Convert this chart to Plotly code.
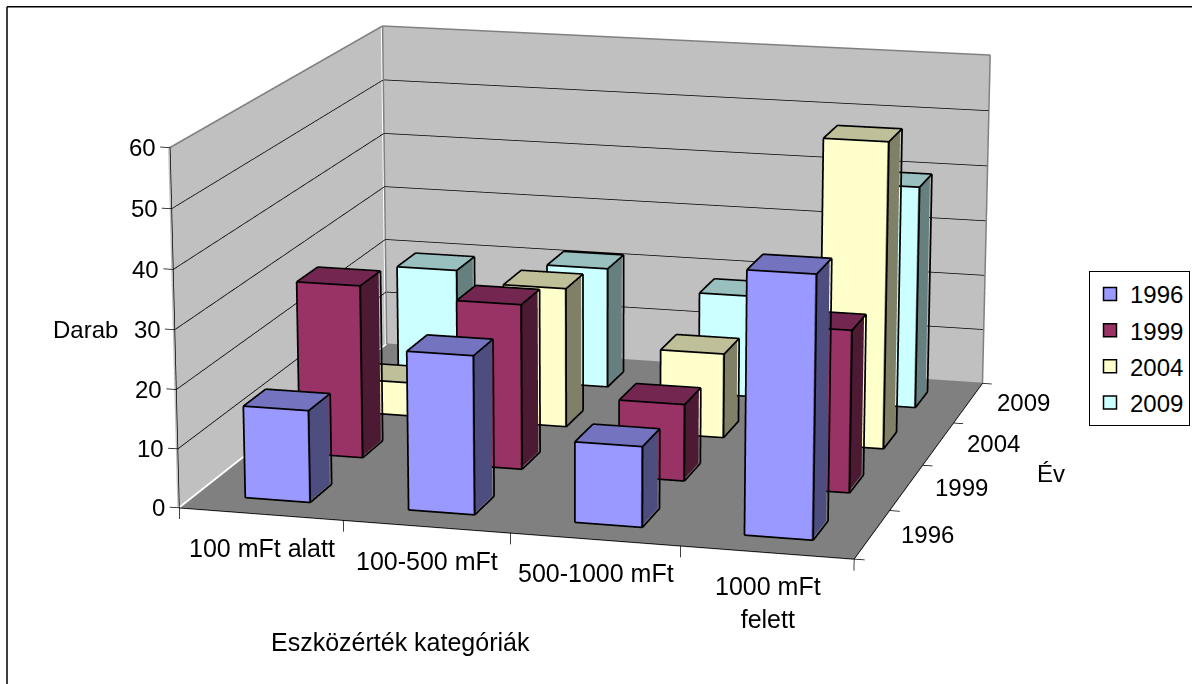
import numpy as np
import plotly.graph_objects as go

categories = ["100 mFt alatt", "100-500 mFt", "500-1000 mFt", "1000 mFt<br>felett"]
series_names = ["1996", "1999", "2004", "2009"]
v1996 = [15.6, 26.7, 13.5, 43.6]
v1999 = [30, 28.5, 13.2, 27.7]
v2004 = [6, 24.7, 14.9, 53.5]
v2009 = [19.8, 21.8, 18.4, 39.8]
series_values = [v1996, v1999, v2004, v2009]
z_ticks = [0, 10, 20, 30, 40, 50, 60]
front = ["#9999FF", "#993366", "#FFFFCC", "#CCFFFF"]
top = ["#7373BF", "#732650", "#BFBF99", "#99BFBF"]
side = ["#4D4D80", "#4D1A33", "#808066", "#668080"]

XR = (-0.1, 4.1); YR = (-0.1, 4.1); ZR = (-2.5, 61.0)
W = 1192
EYE = (3.0625, -11.5684, 2.8316)
CEN = (-0.0130, 0, -0.5218)
ASP = (1.8604, 1.8714, 1.0)
K = 4585.1672
PY = 464.1472
H = int(round(2 * K * np.tan(np.pi / 8)))
OFF = PY - H / 2


def seg(pairs):
    xs, ys, zs = [], [], []
    for a, b in pairs:
        xs += [a[0], b[0], None]
        ys += [a[1], b[1], None]
        zs += [a[2], b[2], None]
    return xs, ys, zs


def line(pairs, color, width):
    x, y, z = seg(pairs)
    return go.Scatter3d(x=x, y=y, z=z, mode="lines", line=dict(color=color, width=width), showlegend=False, hoverinfo="skip")


flat = dict(ambient=1, diffuse=0, specular=0, roughness=1, fresnel=0)


def quad(x, y, z, color):
    return go.Mesh3d(x=x, y=y, z=z, i=[0, 0], j=[1, 2], k=[2, 3], color=color, flatshading=True, lighting=flat, hoverinfo="skip", showlegend=False)


fig = go.Figure()
zmax = z_ticks[-1]
d = 0.012
dz = 0.12
fig.add_trace(quad([-d, -d, -d, -d], [0, 4, 4, 0], [0, 0, zmax, zmax], "#C0C0C0"))
fig.add_trace(quad([0, 4, 4, 0], [4 + d] * 4, [0, 0, zmax, zmax], "#C0C0C0"))
fig.add_trace(quad([0, 4, 4, 0], [0, 0, 4, 4], [-dz] * 4, "#808080"))
grid = []
for t in z_ticks[1:-1]:
    grid += [((0, 0, t), (0, 4, t)), ((0, 4, t), (4, 4, t))]
fig.add_trace(line(grid, "#000000", 1.5))
fig.add_trace(line([((0, 0, zmax), (0, 4, zmax)), ((0, 4, zmax), (4, 4, zmax)), ((0, 4, 0), (0, 4, zmax)), ((4, 4, 0), (4, 4, zmax)), ((0, 4, 0), (4, 4, 0))], "#808080", 3))
tk = [((0, 0, t), (-0.06, 0, t)) for t in z_ticks] + [((i, 0, 0), (i, 0, -1.9)) for i in range(5)] + [((4, j, 0), (4.06, j, 0)) for j in range(5)]
fig.add_trace(line(tk + [((0, 0, 0), (0, 0, zmax)), ((0, 0, 0), (4, 0, 0)), ((4, 0, 0), (4, 4, 0))], "#000000", 1.5))
for s in range(3, -1, -1):
    for c in range(4):
        v = series_values[s][c]
        x0, x1, y0, y1 = c + .3, c + .7, s + .3, s + .7
        fig.add_trace(quad([x0, x1 - d, x1 - d, x0], [y0 + d] * 4, [0, 0, v - dz, v - dz], front[s]))
        fig.add_trace(quad([x1 - d] * 4, [y0 + d, y1, y1, y0 + d], [0, 0, v - dz, v - dz], side[s]))
        fig.add_trace(quad([x0, x1 - d, x1 - d, x0], [y0 + d, y0 + d, y1, y1], [v - dz] * 4, top[s]))
        e = [((x0, y0, 0), (x1, y0, 0)), ((x1, y0, 0), (x1, y1, 0)), ((x0, y0, v), (x1, y0, v)), ((x1, y0, v), (x1, y1, v)), ((x1, y1, v), (x0, y1, v)), ((x0, y1, v), (x0, y0, v)), ((x0, y0, 0), (x0, y0, v)), ((x1, y0, 0), (x1, y0, v)), ((x1, y1, 0), (x1, y1, v))]
        fig.add_trace(line(e, "#000000", 3.5))
for s in range(4):
    fig.add_trace(go.Scatter3d(x=[None], y=[None], z=[None], mode="markers", name=series_names[s], legendgroup=series_names[s],
                               marker=dict(symbol="square", size=13, color=front[s], line=dict(color="#000000", width=1.5))))

font = dict(family="Liberation Sans, Arial, sans-serif", size=24, color="#000000")
wide = dict(font, size=25)
ann = []
for t in z_ticks:
    ann.append(dict(x=0, y=0, z=t, text=str(t), showarrow=False, xanchor="right", xshift=-12, font=font))
for i, c in enumerate(categories):
    ann.append(dict(x=i + .5, y=0, z=0, text=c, showarrow=False, yanchor="top", yshift=-18, xshift=1, font=wide))
for j, s in enumerate(series_names):
    ann.append(dict(x=4, y=j + .5, z=0, text=s, showarrow=False, xshift=55, font=font))


def fy(y):
    return 1 - (y - OFF) / H


def px(x, y, text, f):
    return dict(x=x / W, y=fy(y), xref="paper", yref="paper", text=text, showarrow=False, font=f, xanchor="center", yanchor="middle")


ax = dict(visible=False)
fig.update_layout(width=W, height=H, margin=dict(l=0, r=0, t=0, b=0), paper_bgcolor="white", font=font,
                  scene=dict(domain=dict(x=[0, 1], y=[0, 1]), aspectmode="manual", aspectratio=dict(x=ASP[0], y=ASP[1], z=ASP[2]),
                             camera=dict(eye=dict(x=EYE[0], y=EYE[1], z=EYE[2]), center=dict(x=CEN[0], y=CEN[1], z=CEN[2]), up=dict(x=0, y=0, z=1), projection=dict(type="perspective")),
                             xaxis=dict(ax, range=XR), yaxis=dict(ax, range=YR), zaxis=dict(ax, range=ZR), annotations=ann),
                  legend=dict(x=1089 / W, y=fy(271), xanchor="left", yanchor="top", bordercolor="#000000", borderwidth=1, bgcolor="white", tracegroupgap=2, font=font),
                  annotations=[px(85, 330, "Darab", font), px(1051, 474, "Év", font), px(400, 642, "Eszközérték kategóriák", wide)],
                  shapes=[dict(type="line", xref="paper", yref="paper", x0=7 / W, x1=7 / W, y0=fy(700), y1=fy(7), line=dict(color="#000000", width=1.5)),
                          dict(type="line", xref="paper", yref="paper", x0=7 / W, x1=1.1, y0=fy(7), y1=fy(7), line=dict(color="#000000", width=1.5))])
fig.write_html("out.html", config=dict(displayModeBar=False),
               post_script="document.body.style.margin='0';document.documentElement.style.overflow='hidden';document.getElementById('{plot_id}').style.marginTop='%dpx';" % round(OFF))
